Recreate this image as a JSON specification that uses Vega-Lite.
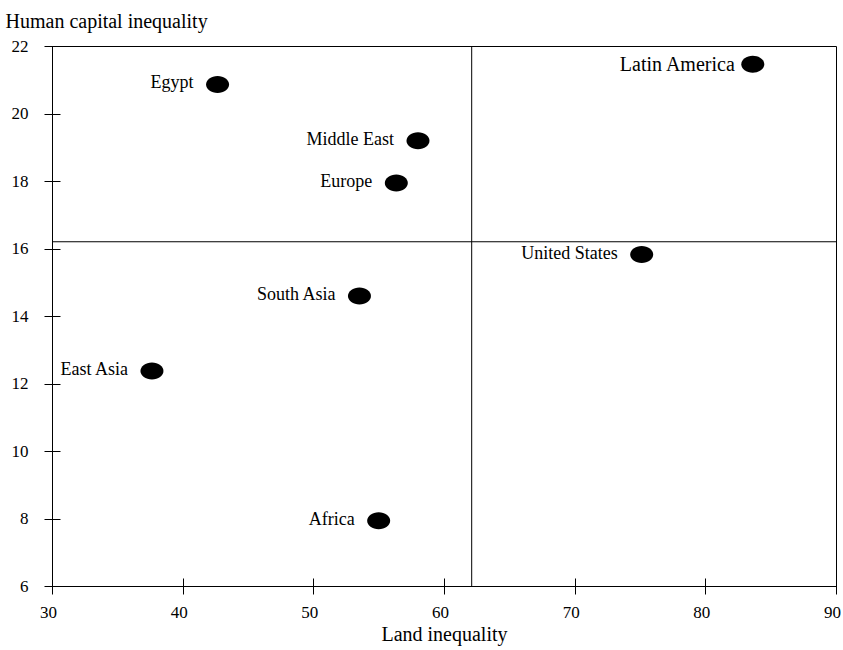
{
  "$schema": "https://vega.github.io/schema/vega-lite/v6.json",
  "width": 784,
  "height": 540,
  "autosize": "none",
  "padding": {"left": 52, "top": 46, "right": 7, "bottom": 64},
  "background": "#ffffff",
  "config": {
    "view": {"stroke": "#000000", "strokeWidth": 1},
    "font": "Liberation Serif"
  },
  "datasets": {
    "regions": [
      {"region": "Egypt", "land": 42.67, "hc": 20.86},
      {"region": "Middle East", "land": 58.01, "hc": 19.19},
      {"region": "Europe", "land": 56.35, "hc": 17.94},
      {"region": "Latin America", "land": 83.63, "hc": 21.46},
      {"region": "United States", "land": 75.13, "hc": 15.82},
      {"region": "South Asia", "land": 53.53, "hc": 14.59},
      {"region": "East Asia", "land": 37.65, "hc": 12.37},
      {"region": "Africa", "land": 55.0, "hc": 7.93}
    ],
    "quadrants": [{"land": 62.12, "hc": 16.2}]
  },
  "layer": [
    {
      "data": {"name": "quadrants"},
      "mark": {"type": "rule", "color": "#000000", "strokeWidth": 1},
      "encoding": {"x": {"field": "land", "type": "quantitative"}}
    },
    {
      "data": {"name": "quadrants"},
      "mark": {"type": "rule", "color": "#000000", "strokeWidth": 1},
      "encoding": {"y": {"field": "hc", "type": "quantitative"}}
    },
    {
      "data": {"name": "regions"},
      "mark": {
        "type": "point",
        "shape": "M -1 0 A 1 0.74 0 1 0 1 0 A 1 0.74 0 1 0 -1 0 Z",
        "filled": true,
        "opacity": 1,
        "color": "#000000",
        "strokeWidth": 0,
        "size": 529
      },
      "encoding": {
        "x": {
          "field": "land",
          "type": "quantitative",
          "scale": {"domain": [30, 90], "nice": false, "zero": false},
          "axis": {
            "title": "Land inequality",
            "values": [30, 40, 50, 60, 70, 80, 90],
            "grid": false,
            "domain": false,
            "offset": -8,
            "tickSize": 16,
            "tickColor": "#000000",
            "tickWidth": 1,
            "labelFont": "Liberation Serif",
            "labelFontSize": 17,
            "labelColor": "#000000",
            "labelBaseline": "alphabetic",
            "labelPadding": 23,
            "labelOffset": -4,
            "labelFlush": false,
            "titleFont": "Liberation Serif",
            "titleFontSize": 20,
            "titleFontWeight": "normal",
            "titleColor": "#000000",
            "titleBaseline": "alphabetic",
            "titleY": 62
          }
        },
        "y": {
          "field": "hc",
          "type": "quantitative",
          "scale": {"domain": [6, 22], "nice": false, "zero": false},
          "axis": {
            "title": "Human capital inequality",
            "values": [6, 8, 10, 12, 14, 16, 18, 20, 22],
            "grid": false,
            "domain": false,
            "offset": -8,
            "tickSize": 16,
            "tickColor": "#000000",
            "tickWidth": 1,
            "labelFont": "Liberation Serif",
            "labelFontSize": 17,
            "labelColor": "#000000",
            "labelPadding": 16,
            "labelFlush": false,
            "titleFont": "Liberation Serif",
            "titleFontSize": 20,
            "titleFontWeight": "normal",
            "titleColor": "#000000",
            "titleAngle": 0,
            "titleAlign": "left",
            "titleBaseline": "alphabetic",
            "titleX": -55,
            "titleY": -19
          }
        }
      }
    },
    {
      "data": {"name": "regions"},
      "transform": [{"filter": "datum.region !== 'Latin America'"}],
      "mark": {
        "type": "text",
        "align": "right",
        "baseline": "alphabetic",
        "dx": -24,
        "dy": 4,
        "fontSize": 18,
        "font": "Liberation Serif",
        "color": "#000000"
      },
      "encoding": {
        "x": {"field": "land", "type": "quantitative"},
        "y": {"field": "hc", "type": "quantitative"},
        "text": {"field": "region"}
      }
    },
    {
      "data": {"name": "regions"},
      "transform": [{"filter": "datum.region === 'Latin America'"}],
      "mark": {
        "type": "text",
        "align": "right",
        "baseline": "alphabetic",
        "dx": -18,
        "dy": 7,
        "fontSize": 20,
        "font": "Liberation Serif",
        "color": "#000000"
      },
      "encoding": {
        "x": {"field": "land", "type": "quantitative"},
        "y": {"field": "hc", "type": "quantitative"},
        "text": {"field": "region"}
      }
    }
  ]
}
